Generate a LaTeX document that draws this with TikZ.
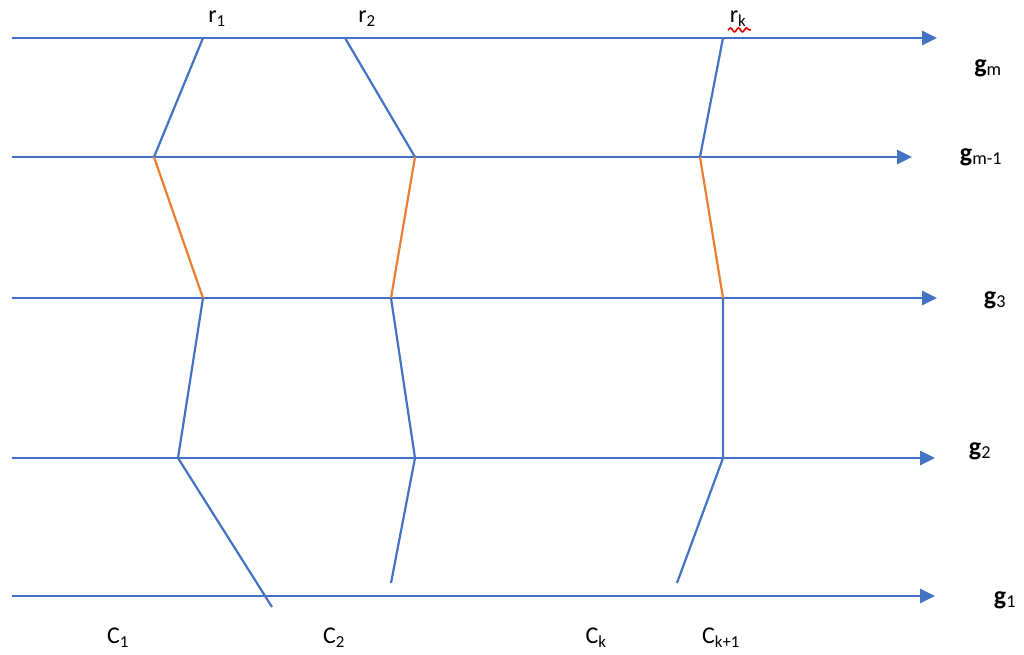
\documentclass[tikz,border=0pt]{standalone}
\usepackage{fontspec}
\setmainfont{Carlito}
\usetikzlibrary{arrows.meta,decorations.pathmorphing}
\definecolor{LineBlue}{HTML}{4472C4}
\definecolor{LinkOrange}{HTML}{ED7D31}
\definecolor{SpellRed}{HTML}{E00000}

\begin{document}
\begin{tikzpicture}[x=1pt,y=-1pt,
  every node/.style={font=\fontsize{24}{28}\selectfont,inner sep=0pt},
  glabel/.style={font=\fontsize{26}{30}\selectfont},
  gline/.style={LineBlue,line width=2.6pt,-{Triangle[length=15pt,width=14pt]}},
  route/.style={LineBlue,line width=2.2pt,line join=round},
  link/.style={LinkOrange,line width=2.2pt}
]
\useasboundingbox (0,0) rectangle (1024,654);
% horizontal levels
\coordinate (gmA) at (12,38);   \coordinate (gmB) at (937,38);
\coordinate (gnA) at (12,157);  \coordinate (gnB) at (912,157);
\coordinate (g3A) at (12,298);  \coordinate (g3B) at (937,298);
\coordinate (g2A) at (12,458);  \coordinate (g2B) at (935,458);
\coordinate (g1A) at (12,596);  \coordinate (g1B) at (935,596);
\draw[gline] (gmA) -- (gmB);
\draw[gline] (gnA) -- (gnB);
\draw[gline] (g3A) -- (g3B);
\draw[gline] (g2A) -- (g2B);
\draw[gline] (g1A) -- (g1B);
% route vertices
\coordinate (p1a) at (203,38);  \coordinate (p1b) at (154,157);
\coordinate (p1c) at (203,298); \coordinate (p1d) at (178,458);
\coordinate (p1e) at (272,607);
\coordinate (p2a) at (345,38);  \coordinate (p2b) at (415,157);
\coordinate (p2c) at (391,298); \coordinate (p2d) at (415,458);
\coordinate (p2e) at (391,583);
\coordinate (pka) at (723,38);  \coordinate (pkb) at (700,157);
\coordinate (pkc) at (723,298); \coordinate (pkd) at (723,458);
\coordinate (pke) at (677,583);
% routes
\draw[route] (p1a) -- (p1b);
\draw[link] (p1b) -- (p1c);
\draw[route] (p1c) -- (p1d) -- (p1e);
\draw[route] (p2a) -- (p2b);
\draw[link] (p2b) -- (p2c);
\draw[route] (p2c) -- (p2d) -- (p2e);
\draw[route] (pka) -- (pkb);
\draw[link] (pkb) -- (pkc);
\draw[route] (pkc) -- (pkd) -- (pke);
% top labels
\node (r1) at (217,19) {r\textsubscript{1}};
\node (r2) at (367,19) {r\textsubscript{2}};
\node (rk) at (738,19) {r\textsubscript{k}};
\draw[SpellRed,line width=1.6pt,decorate,decoration={snake,amplitude=2pt,segment length=8pt}]
  ([xshift=-10pt,yshift=-3pt]rk.south) -- ([xshift=13pt,yshift=-3pt]rk.south);
% level labels
\node[glabel] (lgm) at (988,68) {\textbf{g}\textsubscript{m}};
\node[glabel] (lgn) at (981,157) {\textbf{g}\textsubscript{m-1}};
\node[glabel] (lg3) at (995,300) {\textbf{g}\textsubscript{3}};
\node[glabel] (lg2) at (980,451) {\textbf{g}\textsubscript{2}};
\node[glabel] (lg1) at (1005,600) {\textbf{g}\textsubscript{1}};
% bottom labels
\node (c1) at (118,638) {C\textsubscript{1}};
\node (c2) at (334,638) {C\textsubscript{2}};
\node (ck) at (596,638) {C\textsubscript{k}};
\node (ck1) at (721,638) {C\textsubscript{k+1}};
\end{tikzpicture}
\end{document}
